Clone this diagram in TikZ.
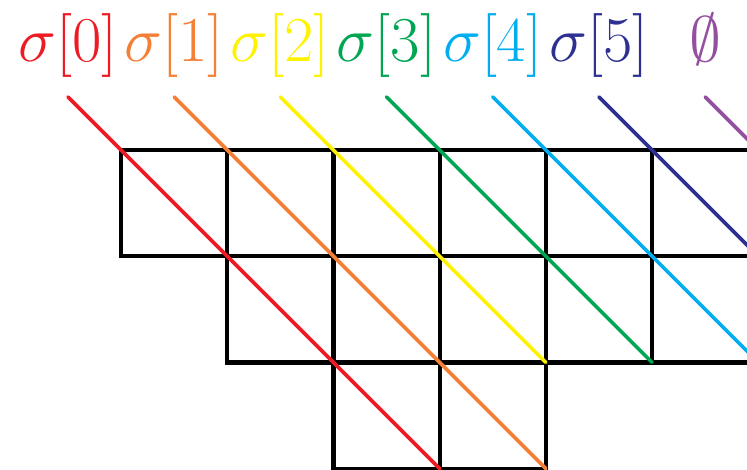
\documentclass[tikz,border=0pt]{standalone}
\usepackage{graphicx}
\definecolor{cR}{HTML}{ED1C24}
\definecolor{cO}{HTML}{F47F36}
\definecolor{cY}{HTML}{FFF200}
\definecolor{cG}{HTML}{00A651}
\definecolor{cC}{HTML}{00AEEF}
\definecolor{cN}{HTML}{2E3192}
\definecolor{cP}{HTML}{9450A0}
\newcommand{\biglab}[1]{\scalebox{2.57}{\Huge$#1$}}
\begin{document}
\begin{tikzpicture}[x=1pt,y=-1pt,
  cell/.style={draw=black,line width=4.2pt},
  diag/.style={line width=3.6pt,line cap=round},
  lab/.style={inner sep=0pt,anchor=base}]
\useasboundingbox (0,0) rectangle (747,470);
\clip (0,0) rectangle (747,470);
\begin{scope}[shift={(121,150)}, x=106.2pt, y=-106.2pt]
  % Young diagram cells
  \foreach \c in {0,...,6} \draw[cell] (\c,0) rectangle (\c+1,1);
  \foreach \c in {1,...,6} \draw[cell] (\c,1) rectangle (\c+1,2);
  \foreach \c in {2,3} \draw[cell] (\c,2) rectangle (\c+1,3);
  % start and end points of the diagonals
  \foreach \k in {0,...,6} \coordinate (s\k) at (\k-0.5,-0.5);
  \coordinate (e0) at (3,3);
  \coordinate (e1) at (4,3);
  \coordinate (e2) at (4,2);
  \coordinate (e3) at (5,2);
  \coordinate (e4) at (6,2);
  \coordinate (e5) at (6,1);
  \coordinate (e6) at (7,1);
  % labels
  \node[lab,text=cR] (l0) at (-0.5,-0.838) {\biglab{\sigma[0]}};
  \node[lab,text=cO] (l1) at (0.5,-0.838) {\biglab{\sigma[1]}};
  \node[lab,text=cY] (l2) at (1.5,-0.838) {\biglab{\sigma[2]}};
  \node[lab,text=cG] (l3) at (2.5,-0.838) {\biglab{\sigma[3]}};
  \node[lab,text=cC] (l4) at (3.5,-0.838) {\biglab{\sigma[4]}};
  \node[lab,text=cN] (l5) at (4.5,-0.838) {\biglab{\sigma[5]}};
  \node[lab,text=cP] (l6) at (5.5,-0.838) {\biglab{\emptyset}};
  % diagonals
  \draw[diag,cR] (s0) -- (e0);
  \draw[diag,cO] (s1) -- (e1);
  \draw[diag,cY] (s2) -- (e2);
  \draw[diag,cG] (s3) -- (e3);
  \draw[diag,cC] (s4) -- (e4);
  \draw[diag,cN] (s5) -- (e5);
  \draw[diag,cP] (s6) -- (e6);
\end{scope}
\end{tikzpicture}
\end{document}
